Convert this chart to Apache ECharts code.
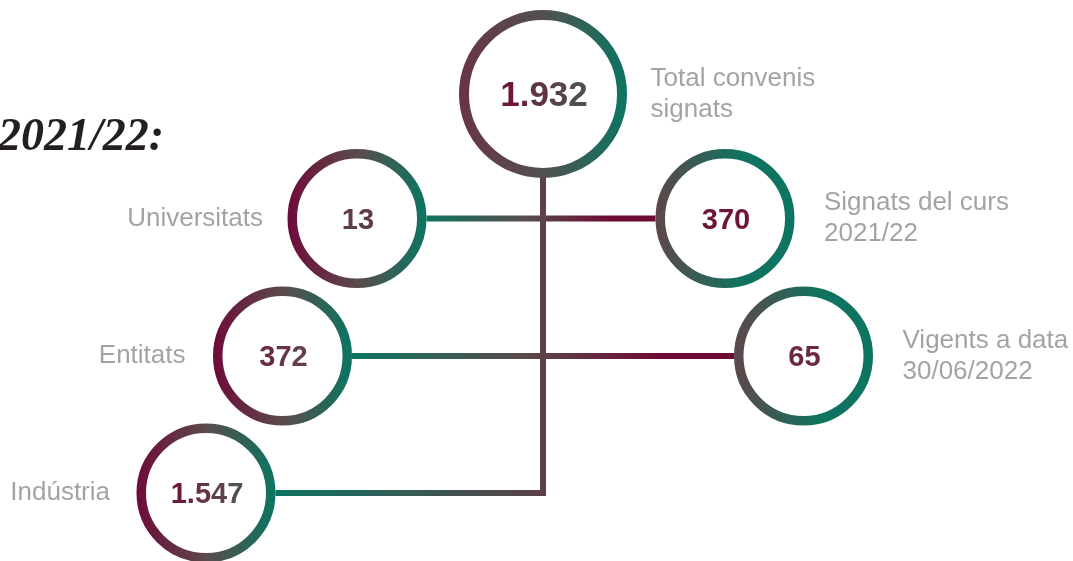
<!DOCTYPE html>
<html><head><meta charset="utf-8">
<script src="https://cdn.jsdelivr.net/npm/echarts@6/dist/echarts.min.js"></script>
<style>html,body{margin:0;padding:0;background:#fff}#c{width:1073px;height:561px}</style>
</head><body><div id="c"></div>
<script>
// ---- data ----
const titleText = '2021/22:';
const categories = ['Total convenis\nsignats', 'Universitats', 'Signats del curs\n2021/22', 'Entitats', 'Vigents a data\n30/06/2022', 'Indústria'];
const values = [1932, 13, 370, 372, 65, 1547];
const links = [[1, 2], [3, 4]];      // horizontal connectors between nodes
const trunkFrom = 0, trunkTo = 5;    // vertical trunk from top node down to the bottom branch

// ---- layout / style ----
const nodeX = [543, 357, 725, 282.5, 803.5, 206];
const nodeY = [94, 218.5, 218.5, 356, 356, 493];
const outerR = [84, 69.5, 69.5, 69.5, 69.5, 69.5];
const borderW = [10, 9.5, 9.5, 9.5, 9.5, 9.5];
const labelSide = ['right', 'left', 'right', 'left', 'right', 'left'];
const labelGap = [23, 24, 29, 27, 29, 26];
const numSize = [35, 29, 29, 29, 29, 29];
const numColA = ['#6e173d', '#5c3c48', '#6c1538', '#6a2c44', '#6a2841', '#6e173d'];
const numColB = ['#505050', '#5c3c48', '#6c1538', '#644048', '#6a2841', '#545050'];
const TEAL = '#0c7562', MAROON = '#6e0b3a', MID = '#5b4b4b';
const ringStops = [
  [[0, '#683447'], [0.5, '#525050'], [1, TEAL]],
  [[0, MAROON], [0.5, MID], [1, TEAL]],
  [[0, '#5e4749'], [0.6, '#10725f'], [1, TEAL]],
  [[0, MAROON], [0.5, MID], [1, TEAL]],
  [[0, '#5e4749'], [0.6, '#10725f'], [1, TEAL]],
  [[0, MAROON], [0.5, MID], [1, TEAL]]
];
const LW = 6;
const TRUNK = '#5d4148';
const linkStops = [[0, TEAL], [0.45, '#5a4a4b'], [0.8, '#6e0a36'], [1, '#6e0a36']];
const branchStops = [[0, TEAL], [1, '#5e4048']];

function fmt(v) { return String(v).replace(/\B(?=(\d{3})+(?!\d))/g, '.'); }
function hex2rgb(h) { h = h.replace('#', ''); return [0, 2, 4].map(k => parseInt(h.substr(k, 2), 16)); }
function mix(a, b, t) {
  const A = hex2rgb(a), B = hex2rgb(b);
  return 'rgb(' + A.map((v, i) => Math.round(v + (B[i] - v) * t)).join(',') + ')';
}
function grad(stops) {
  return new echarts.graphic.LinearGradient(0, 0, 1, 0, stops.map(s => ({ offset: s[0], color: s[1] })));
}

// rich number text
const rich = {};
const numText = values.map((v, i) => {
  const s = fmt(v); const n = s.length; let out = '';
  for (let k = 0; k < n; k++) {
    const name = 'n' + i + 'c' + k;
    rich[name] = { color: mix(numColA[i], numColB[i], n > 1 ? k / (n - 1) : 0), fontSize: numSize[i], fontWeight: 'bold', fontFamily: 'Liberation Sans, Arial, sans-serif' };
    out += '{' + name + '|' + s[k] + '}';
  }
  return out;
});

// connector segments
const segs = [];
links.forEach(([a, b]) => {
  segs.push({ value: [nodeX[a] + outerR[a], nodeY[a], nodeX[b] - outerR[b], nodeY[a]], stroke: grad(linkStops) });
});
segs.push({ value: [nodeX[trunkFrom], nodeY[trunkFrom], nodeX[trunkFrom], nodeY[trunkTo] + LW / 2], stroke: TRUNK });
segs.push({ value: [nodeX[trunkTo] + outerR[trunkTo], nodeY[trunkTo], nodeX[trunkFrom] + LW / 2, nodeY[trunkTo]], stroke: grad(branchStops) });

const chart = echarts.init(document.getElementById('c'), null, { renderer: 'canvas' });
chart.setOption({
  animation: false,
  backgroundColor: '#ffffff',
  title: {
    text: titleText, right: 909, top: 115, padding: 0,
    textStyle: { fontFamily: 'Liberation Serif, serif', fontStyle: 'italic', fontWeight: 'bold', fontSize: 46, color: '#231f20' }
  },
  grid: { left: 0, right: 0, top: 0, bottom: 0 },
  xAxis: { type: 'value', min: 0, max: 1073, show: false },
  yAxis: { type: 'value', min: 0, max: 561, inverse: true, show: false },
  series: [
    {
      type: 'custom', z: 1,
      data: segs.map(s => s.value),
      renderItem: function (params, api) {
        const p1 = api.coord([api.value(0), api.value(1)]);
        const p2 = api.coord([api.value(2), api.value(3)]);
        return { type: 'line', shape: { x1: p1[0], y1: p1[1], x2: p2[0], y2: p2[1] },
          style: { stroke: segs[params.dataIndex].stroke, lineWidth: LW, lineCap: 'butt' } };
      }
    },
    {
      type: 'scatter', z: 3, symbol: 'circle', silent: true,
      data: values.map((v, i) => ({
        value: [nodeX[i], nodeY[i], v],
        symbolSize: 2 * outerR[i] - borderW[i],
        itemStyle: { color: '#ffffff', borderColor: grad(ringStops[i]), borderWidth: borderW[i], opacity: 1 }
      })),
      label: { show: true, position: 'inside', offset: [1, 2], formatter: p => numText[p.dataIndex], rich: rich }
    },
    {
      type: 'scatter', z: 4, symbol: 'circle', symbolSize: 1, silent: true,
      itemStyle: { color: 'rgba(0,0,0,0)' },
      data: categories.map((c, i) => ({
        value: [nodeX[i], nodeY[i]],
        label: { position: labelSide[i], distance: outerR[i] + labelGap[i] }
      })),
      label: {
        show: true, formatter: p => categories[p.dataIndex],
        fontFamily: 'Liberation Sans, Arial, sans-serif', fontSize: 26, lineHeight: 31, color: '#8a8d90'
      }
    }
  ]
});
</script>
</body></html>
